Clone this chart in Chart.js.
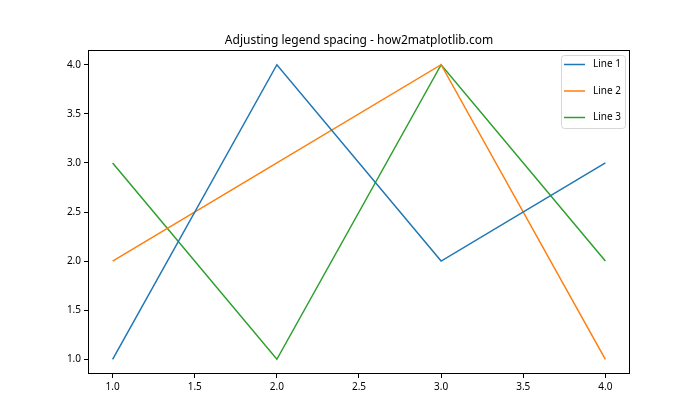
<!DOCTYPE html>
<html>
<head>
<meta charset="utf-8">
<script src="https://cdn.jsdelivr.net/npm/chart.js@4"></script>
<style>
html,body{margin:0;padding:0;background:#fff;}
#wrap{width:700px;height:420px;}
</style>
</head>
<body>
<div id="wrap"><canvas id="c" width="700" height="420"></canvas></div>
<script>
const xValues = [1, 2, 3, 4];
const line1 = [1, 4, 2, 3];
const line2 = [2, 3, 4, 1];
const line3 = [3, 1, 4, 2];
const seriesNames = ['Line 1', 'Line 2', 'Line 3'];
const seriesColors = ['#1f77b4', '#ff7f0e', '#2ca02c'];
const xTicks = [1.0, 1.5, 2.0, 2.5, 3.0, 3.5, 4.0];
const yTicks = [1.0, 1.5, 2.0, 2.5, 3.0, 3.5, 4.0];
const titleText = 'Adjusting legend spacing - how2matplotlib.com';

const FONT = '"Noto Sans", "DejaVu Sans", sans-serif';

function toPts(ys){ return xValues.map((x,i)=>({x:x, y:ys[i]})); }
const allSeries = [line1, line2, line3];

const framePlugin = {
  id: 'frame',
  afterDraw(chart){
    const ctx = chart.ctx, a = chart.chartArea;
    ctx.save();
    ctx.strokeStyle = '#000';
    ctx.lineWidth = 1;
    ctx.strokeRect(Math.round(a.left)+0.5, Math.round(a.top)+0.5, Math.round(a.right-a.left)-1, Math.round(a.bottom-a.top)-1);
    // title
    ctx.fillStyle = '#000';
    ctx.font = '12px ' + FONT;
    ctx.textAlign = 'center';
    ctx.textBaseline = 'alphabetic';
    ctx.fillText(titleText, (a.left+a.right)/2, a.top - 6);
    // legend
    ctx.font = '10px ' + FONT;
    const ds = chart.data.datasets;
    let maxW = 0;
    ds.forEach(d=>{ maxW = Math.max(maxW, ctx.measureText(d.label).width); });
    const handle = 21, pad = 3, gap = 8;
    const w = pad + handle + gap + maxW + 4;
    const h = 73;
    const x0 = Math.round(a.right - 5 - w), y0 = Math.round(a.top + 5);
    ctx.beginPath();
    if (ctx.roundRect) ctx.roundRect(x0+0.5, y0+0.5, w, h, 3); else ctx.rect(x0+0.5,y0+0.5,w,h);
    ctx.fillStyle = 'rgba(255,255,255,0.8)';
    ctx.fill();
    ctx.strokeStyle = '#d6d6d6';
    ctx.lineWidth = 1;
    ctx.stroke();
    ds.forEach((d,i)=>{
      const cy = y0 + 9.5 + i*26.5;
      ctx.beginPath();
      ctx.strokeStyle = d.borderColor;
      ctx.lineWidth = 1.5;
      ctx.moveTo(x0 + pad, cy);
      ctx.lineTo(x0 + pad + handle, cy);
      ctx.stroke();
      ctx.fillStyle = '#000';
      ctx.textAlign = 'left';
      ctx.textBaseline = 'middle';
      ctx.fillText(d.label, x0 + pad + handle + gap, cy);
    });
    ctx.restore();
  }
};

new Chart(document.getElementById('c'), {
  type: 'line',
  data: {
    datasets: allSeries.map((s,i)=>({
      label: seriesNames[i],
      data: toPts(s),
      borderColor: seriesColors[i],
      backgroundColor: seriesColors[i],
      borderWidth: 1.5,
      pointRadius: 0,
      tension: 0,
      fill: false
    }))
  },
  options: {
    responsive: false,
    animation: false,
    devicePixelRatio: 1,
    layout: { padding: { left: 0, right: 70, top: 50, bottom: 0 } },
    plugins: { legend: { display: false }, title: { display: false }, tooltip: { enabled: false } },
    scales: {
      x: {
        type: 'linear',
        min: 0.85, max: 4.15,
        afterBuildTicks(scale){ scale.ticks = xTicks.map(v=>({value:v})); },
        afterFit(scale){ scale.height = 46; },
        grid: { display: true, drawOnChartArea: false, drawTicks: true, tickLength: 4, color: '#000', tickWidth: 1 },
        border: { display: false },
        ticks: { color: '#000', padding: 3, font: { size: 10, family: FONT }, maxRotation: 0, autoSkip: false,
          callback: v => Number(v).toFixed(1) }
      },
      y: {
        type: 'linear',
        min: 0.85, max: 4.15,
        afterBuildTicks(scale){ scale.ticks = yTicks.map(v=>({value:v})); },
        afterFit(scale){ scale.width = 88; },
        grid: { display: true, drawOnChartArea: false, drawTicks: true, tickLength: 4, color: '#000', tickWidth: 1 },
        border: { display: false },
        ticks: { color: '#000', padding: 3, font: { size: 10, family: FONT }, autoSkip: false,
          callback: v => Number(v).toFixed(1) }
      }
    }
  },
  plugins: [framePlugin]
});
</script>
</body>
</html>
